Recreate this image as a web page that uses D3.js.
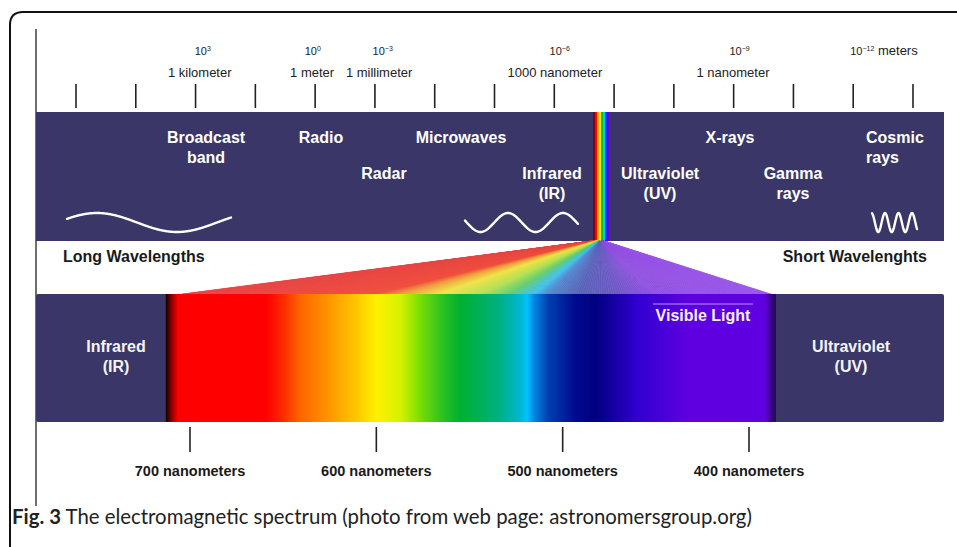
<!DOCTYPE html>
<html><head><meta charset="utf-8">
<script src="https://cdn.jsdelivr.net/npm/d3@7"></script>
<style>html,body{margin:0;padding:0;background:#fff;overflow:hidden}</style>
</head><body>
<svg id="chart" width="957" height="547"></svg>
<script>
// ---------- data ----------
const topTickIndex = d3.range(15);                     // 15 evenly spaced ticks on the log-wavelength ruler
const exponentLabels = ["3", "0", "-3", "-6", "-9", "-12"];   // 10^x
const unitLabels = ["1 kilometer", "1 meter", "1 millimeter", "1000 nanometer", "1 nanometer"];
const bandNames = [["Broadcast", "band"], ["Radio"], ["Radar"], ["Microwaves"], ["Infrared", "(IR)"],
                   ["Ultraviolet", "(UV)"], ["X-rays"], ["Gamma", "rays"], ["Cosmic", "rays"]];
const visibleTicksNm = [700, 600, 500, 400];
const visibleTickLabels = ["700 nanometers", "600 nanometers", "500 nanometers", "400 nanometers"];
const visibleRangeNm = [713, 385.5];
// spectrum colour stops (wavelength nm -> colour) of the visible bar
const barStopNm    = [713, 710.7, 706.4, 659.2, 650.1, 641, 624.9, 611.4, 600.2, 586.8, 577.6, 565.8, 555.1, 534.7, 522.9, 519.1, 514.8, 507.9, 493.4, 482.6, 460.1, 433.3, 391.4, 388.2, 385.5];
const barStopColor = ["#050000", "#700000", "#ff0000", "#ff0000", "#ff2a00", "#ff6400", "#ff9800", "#ffc400", "#fff000", "#d4f200", "#82e000", "#34c420", "#00b030", "#00b07e", "#00b6d2", "#00c4ff", "#0080e0", "#0040b0", "#000a90", "#00007e", "#3000d0", "#5e00e0", "#6000e0", "#3c0090", "#1c1240"];
// lighter colours of the fan of rays
const fanStopNm    = [704, 600, 587, 566, 544, 528, 520, 515, 508, 490, 470, 450, 389];
const fanStopColor = ["#e84848", "#f05040", "#f09a40", "#f0e448", "#b8e050", "#60cc70", "#48c4c8", "#40c0f0", "#5088d0", "#5a62b8", "#7058c8", "#9050e0", "#9a55ea"];
// thin prism strip in the upper band
const stripColor = ["#8b0000", "#ff0000", "#ffb000", "#f8f000", "#00c000", "#00c8ff", "#2030ff", "#6000e0"];

// ---------- layout ----------
const NAVY = "#3a3768";
const svg = d3.select("#chart");
const xTop = d3.scaleLinear().domain([0, 14]).range([76, 913]);
const xNm = d3.scaleLinear().domain([700, 400]).range([190, 749]);
const band = {x0: 36, x1: 944, y0: 112, y1: 241};
const bar  = {x0: 36, x1: 944, y0: 294, y1: 422};
const sans = "'Liberation Sans', Arial, Helvetica, sans-serif";

// frame
svg.append("path").attr("d", "M10,547 V25 Q10,12 23,12 H957")
  .attr("fill", "none").attr("stroke", "#111").attr("stroke-width", 2);
svg.append("line").attr("x1", 36).attr("x2", 36).attr("y1", 29).attr("y2", 506)
  .attr("stroke", "#222").attr("stroke-width", 1.3);

// top ruler ticks
svg.append("g").selectAll("line").data(topTickIndex).join("line")
  .attr("x1", d => xTop(d)).attr("x2", d => xTop(d)).attr("y1", 84).attr("y2", 108)
  .attr("stroke", "#222").attr("stroke-width", 1.6);

// exponent labels
const expPos = [2.12, 3.96, 5.13, 8.09, 11.1, 12.95];
exponentLabels.forEach((e, i) => {
  const last = i === exponentLabels.length - 1;
  const t = svg.append("text").attr("x", xTop(expPos[i])).attr("y", 55)
    .attr("text-anchor", last ? "start" : "middle")
    .attr("font-family", sans).attr("font-size", 11).attr("fill", "#222");
  t.append("tspan").text("10");
  t.append("tspan").attr("font-size", 7).attr("dy", -4).text(e.replace("-", "\u2212"));
  if (last) t.append("tspan").attr("dy", 4).attr("font-size", 13).text(" meters");
});
const unitPos = [2.07, 3.95, 5.07, 8.01, 10.99];
svg.append("g").selectAll("text").data(unitLabels).join("text")
  .attr("x", (d, i) => xTop(unitPos[i])).attr("y", 77).attr("text-anchor", "middle")
  .attr("font-family", sans).attr("font-size", 13).attr("fill", "#222").text(d => d);

// upper band
svg.append("rect").attr("x", band.x0).attr("y", band.y0).attr("width", band.x1 - band.x0)
  .attr("height", band.y1 - band.y0).attr("fill", NAVY);

// prism strip
const sx = d3.scaleLinear().domain([0, stripColor.length]).range([593, 609]);
svg.append("g").selectAll("rect").data(stripColor).join("rect")
  .attr("x", (d, i) => sx(i)).attr("width", sx(1) - sx(0) + 0.3)
  .attr("y", band.y0).attr("height", band.y1 - band.y0).attr("fill", d => d);

// band labels
const bandLayout = [
  {x: 206, y: 143, a: "middle"}, {x: 321, y: 143, a: "middle"}, {x: 384, y: 179, a: "middle"},
  {x: 461, y: 143, a: "middle"}, {x: 552, y: 179, a: "middle"}, {x: 660, y: 179, a: "middle"},
  {x: 730, y: 143, a: "middle"}, {x: 793, y: 179, a: "middle"}, {x: 866, y: 143, a: "start"}];
bandNames.forEach((lines, i) => {
  const L = bandLayout[i];
  lines.forEach((s, j) => {
    svg.append("text").attr("x", L.x).attr("y", L.y + j * 20).attr("text-anchor", L.a)
      .attr("font-family", sans).attr("font-weight", "bold").attr("font-size", 16)
      .attr("fill", "#fff").text(s);
  });
});

// decorative waves
function wave(x0, x1, peak, period, amp, cy) {
  const pts = d3.range(x0, x1 + 0.01, 0.5).map(x => [x, cy - amp * Math.cos(2 * Math.PI * (x - peak) / period)]);
  svg.append("path").attr("d", d3.line().curve(d3.curveLinear)(pts))
    .attr("fill", "none").attr("stroke", "#fff").attr("stroke-width", 2.4).attr("stroke-linecap", "round");
}
wave(67, 231, 97, 160, 9.5, 222.5);
wave(465, 578, 508, 55, 9.5, 222.5);
wave(872, 917, 885, 13.5, 9.5, 222.5);

// Long / short wavelengths
svg.append("text").attr("x", 63).attr("y", 262).attr("font-family", sans).attr("font-weight", "bold")
  .attr("font-size", 16).attr("fill", "#1a1a1a").text("Long Wavelengths");
svg.append("text").attr("x", 927).attr("y", 262).attr("text-anchor", "end").attr("font-family", sans)
  .attr("font-weight", "bold").attr("font-size", 16).attr("fill", "#1a1a1a").text("Short Wavelenghts");

// fan of rays
const fanColor = d3.scaleLinear().domain(fanStopNm).range(fanStopColor).interpolate(d3.interpolateRgb);
const fanBottom = d3.scaleLinear().domain([0, 1]).range([182, 771]);
const fanTop = d3.scaleLinear().domain([0, 1]).range([592, 604]);
const N = 240;
svg.append("g").selectAll("path").data(d3.range(N)).join("path")
  .attr("d", i => {
    const t0 = i / N, t1 = (i + 1) / N;
    return `M${fanTop(t0)},${band.y1}L${fanTop(t1)},${band.y1}L${fanBottom(t1)},${bar.y0}L${fanBottom(t0)},${bar.y0}Z`;
  })
  .attr("fill", i => fanColor(xNm.invert(fanBottom((i + 0.5) / N))))
  .attr("stroke", i => fanColor(xNm.invert(fanBottom((i + 0.5) / N)))).attr("stroke-width", 0.6);

// lower bar
svg.append("rect").attr("x", bar.x0).attr("y", bar.y0).attr("width", bar.x1 - bar.x0)
  .attr("height", bar.y1 - bar.y0).attr("rx", 2).attr("fill", NAVY);
const defs = svg.append("defs");
const grad = defs.append("linearGradient").attr("id", "vis").attr("gradientUnits", "userSpaceOnUse")
  .attr("x1", xNm(visibleRangeNm[0])).attr("x2", xNm(visibleRangeNm[1])).attr("y1", 0).attr("y2", 0);
const span = xNm(visibleRangeNm[1]) - xNm(visibleRangeNm[0]);
grad.selectAll("stop").data(barStopNm).join("stop")
  .attr("offset", d => (xNm(d) - xNm(visibleRangeNm[0])) / span)
  .attr("stop-color", (d, i) => barStopColor[i]);
svg.append("rect").attr("x", xNm(visibleRangeNm[0])).attr("y", bar.y0)
  .attr("width", span).attr("height", bar.y1 - bar.y0).attr("fill", "url(#vis)");

// bar labels
[["Infrared", "(IR)", 116], ["Ultraviolet", "(UV)", 851]].forEach(([a, b, x]) => {
  [a, b].forEach((s, j) => svg.append("text").attr("x", x).attr("y", 352 + j * 20)
    .attr("text-anchor", "middle").attr("font-family", sans).attr("font-weight", "bold")
    .attr("font-size", 16).attr("fill", "#f4f4f8").text(s));
});
svg.append("line").attr("x1", 653).attr("x2", 753).attr("y1", 304).attr("y2", 304)
  .attr("stroke", "#b49cf0").attr("stroke-width", 1);
svg.append("text").attr("x", 703).attr("y", 321).attr("text-anchor", "middle")
  .attr("font-family", sans).attr("font-weight", "bold").attr("font-size", 16)
  .attr("fill", "#f4eefc").text("Visible Light");

// bottom ticks & labels
const bottom = svg.append("g");
bottom.selectAll("line").data(visibleTicksNm).join("line")
  .attr("x1", d => xNm(d)).attr("x2", d => xNm(d)).attr("y1", 427).attr("y2", 452)
  .attr("stroke", "#222").attr("stroke-width", 1.6);
bottom.selectAll("text").data(visibleTickLabels).join("text")
  .attr("x", (d, i) => xNm(visibleTicksNm[i])).attr("y", 476).attr("text-anchor", "middle")
  .attr("font-family", sans).attr("font-weight", "bold").attr("font-size", 14.5)
  .attr("fill", "#1a1a1a").text(d => d);

// caption
const cap = svg.append("text").attr("x", 12).attr("y", 524)
  .attr("font-family", "Lato, 'Open Sans', sans-serif").attr("font-size", 17).attr("fill", "#222");
cap.append("tspan").attr("font-weight", "bold").text("Fig. 3");
cap.append("tspan").text(" The electromagnetic spectrum (photo from web page: astronomersgroup.org)");
const w = cap.node().getComputedTextLength();
cap.attr("font-size", 17 * 740 / w);
</script>
</body></html>
